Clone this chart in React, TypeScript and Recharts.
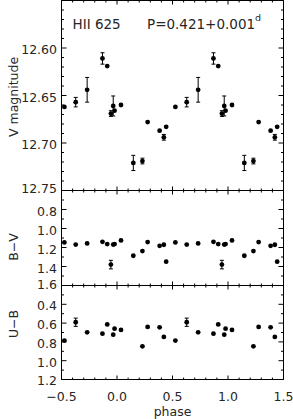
import { ErrorBar, ReferenceArea, Scatter, ScatterChart, XAxis, YAxis } from "recharts";

// folded observations of HII 625, phase in [0,1)
const phases = [0.036, 0.147, 0.229, 0.276, 0.384, 0.422, 0.443, 0.526, 0.628, 0.731, 0.869, 0.912, 0.945, 0.966, 0.978];
const vMag = [12.66, 12.721, 12.719, 12.678, 12.687, 12.694, 12.683, 12.662, 12.657, 12.644, 12.611, 12.619, 12.669, 12.661, 12.666];
const vErr = [0, 0.008, 0.003, 0, 0, 0.003, 0, 0, 0.005, 0.013, 0.006, 0, 0.003, 0.0105, 0];
const bv = [1.126, 1.287, 1.238, 1.143, 1.182, 1.171, 1.349, 1.147, 1.169, 1.157, 1.14, 1.164, 1.38, 1.169, 1.164];
const bvErr = [0, 0, 0, 0, 0, 0, 0, 0, 0, 0, 0, 0, 0.045, 0, 0];
const ub = [0.673, null, 0.847, 0.641, 0.645, 0.747, null, 0.786, 0.591, 0.698, 0.712, 0.614, null, 0.723, 0.659];
const ubErr = [0, 0, 0, 0, 0, 0, 0, 0, 0.044, 0, 0, 0, 0, 0, 0];

const xTicks = [-0.5, -0.4, -0.3, -0.2, -0.1, 0, 0.1, 0.2, 0.3, 0.4, 0.5, 0.6, 0.7, 0.8, 0.9, 1, 1.1, 1.2, 1.3, 1.4, 1.5];
const xMajor = [-0.5, 0, 0.5, 1, 1.5];

const vTicks = [12.55, 12.56, 12.57, 12.58, 12.59, 12.6, 12.61, 12.62, 12.63, 12.64, 12.65, 12.66, 12.67, 12.68, 12.69, 12.7, 12.71, 12.72, 12.73, 12.74, 12.75];
const vMajor = [12.55, 12.6, 12.65, 12.7, 12.75];
const vLabels = [12.6, 12.65, 12.7, 12.75];

const bvTicks = [0.6, 0.7, 0.8, 0.9, 1.0, 1.1, 1.2, 1.3, 1.4, 1.5, 1.6];
const bvMajor = [0.6, 0.8, 1.0, 1.2, 1.4, 1.6];
const bvLabels = [0.8, 1.0, 1.2, 1.4, 1.6];

const ubTicks = [0.2, 0.3, 0.4, 0.5, 0.6, 0.7, 0.8, 0.9, 1.0, 1.1, 1.2];
const ubMajor = [0.2, 0.4, 0.6, 0.8, 1.0, 1.2];
const ubLabels = [0.4, 0.6, 0.8, 1.0, 1.2];

const W = 293;
const H = 419;
const LEFT = 61.5;
const RIGHT = 283.5;
const FONT = "DejaVu Sans";
const INK = "#262626";

const has = (list: number[], v: number) => list.some((m) => Math.abs(m - v) < 1e-6);

// repeat each observation one cycle either side, keep what lands in -0.5..1.5
const fold = (vals: (number | null)[], errs: number[]) => {
  const rows: { phase: number; val: number; err: number }[] = [];
  for (const c of [-1, 0, 1]) {
    phases.forEach((p, i) => {
      const ph = p + c;
      const v = vals[i];
      if (v == null || ph < -0.5 || ph > 1.5) return;
      rows.push({ phase: ph, val: v, err: errs[i] });
    });
  }
  return rows;
};

const dot = (p: any) => <circle cx={p.cx} cy={p.cy} r={2.4} fill="#000" />;

type Panel = {
  top: number;
  bottom: number;
  domain: [number, number];
  ticks: number[];
  major: number[];
  labels: number[];
  digits: number;
  data: { phase: number; val: number; err: number }[];
  xLabels: boolean;
  edgeShift: number;
};

function PanelChart({ panel }: { panel: Panel }) {
  const { top, bottom, domain } = panel;

  const xTick = (p: any) => {
    const v = p.payload.value;
    const big = has(xMajor, v);
    const len = big ? 4 : 2;
    return (
      <g>
        <line x1={p.x} x2={p.x} y1={p.y} y2={p.y - len} stroke="#000" />
        <line x1={p.x} x2={p.x} y1={top} y2={top + len} stroke="#000" />
        {panel.xLabels && big && (
          <text x={p.x} y={p.y + 21} textAnchor="middle" fontFamily={FONT} fontSize={12.5} fill={INK}>
            {v.toFixed(1).replace("-", "\u2212")}
          </text>
        )}
      </g>
    );
  };

  const yTick = (p: any) => {
    const v = p.payload.value;
    const big = has(panel.major, v);
    const len = big ? 5 : 2.5;
    const edge = Math.abs(v - domain[1]) < 1e-6;
    return (
      <g>
        <line x1={p.x} x2={p.x + len} y1={p.y} y2={p.y} stroke="#000" />
        <line x1={RIGHT} x2={RIGHT - len} y1={p.y} y2={p.y} stroke="#000" />
        {has(panel.labels, v) && (
          <text
            x={p.x - 4.5}
            y={p.y + 5.5 + (edge ? panel.edgeShift : 0.5)}
            textAnchor="end"
            fontFamily={FONT}
            fontSize={12.5}
            fill={INK}
          >
            {v.toFixed(panel.digits)}
          </text>
        )}
      </g>
    );
  };

  // axes need a non-zero size to be drawn, so they take 1px out of the margins
  return (
    <div style={{ position: "absolute", left: 0, top: 0 }}>
      <ScatterChart
        width={W}
        height={H}
        margin={{ top, bottom: H - bottom - 1, left: LEFT - 1, right: W - RIGHT }}
      >
        <XAxis
          dataKey="phase"
          type="number"
          domain={[-0.5, 1.5]}
          ticks={xTicks}
          interval={0}
          height={1}
          tickSize={0}
          tickMargin={0}
          axisLine={false}
          tickLine={false}
          tick={xTick}
          allowDataOverflow
        />
        <YAxis
          dataKey="val"
          type="number"
          domain={domain}
          reversed
          ticks={panel.ticks}
          interval={0}
          width={1}
          tickSize={0}
          tickMargin={0}
          axisLine={false}
          tickLine={false}
          tick={yTick}
          allowDataOverflow
        />
        <ReferenceArea
          x1={-0.5}
          x2={1.5}
          y1={domain[0]}
          y2={domain[1]}
          fill="none"
          stroke="#000"
          strokeWidth={1}
          ifOverflow="visible"
        />
        <Scatter data={panel.data} shape={dot} isAnimationActive={false}>
          <ErrorBar dataKey="err" direction="y" width={2} stroke="#000" strokeWidth={1} />
        </Scatter>
      </ScatterChart>
    </div>
  );
}

const panels: Panel[] = [
  {
    top: 0.5,
    bottom: 190.5,
    domain: [12.55, 12.75],
    ticks: vTicks,
    major: vMajor,
    labels: vLabels,
    digits: 2,
    data: fold(vMag, vErr),
    xLabels: false,
    edgeShift: -3,
  },
  {
    top: 190.5,
    bottom: 285.5,
    domain: [0.6, 1.6],
    ticks: bvTicks,
    major: bvMajor,
    labels: bvLabels,
    digits: 1,
    data: fold(bv, bvErr),
    xLabels: false,
    edgeShift: -2.5,
  },
  {
    top: 285.5,
    bottom: 379.5,
    domain: [0.2, 1.2],
    ticks: ubTicks,
    major: ubMajor,
    labels: ubLabels,
    digits: 1,
    data: fold(ub, ubErr),
    xLabels: true,
    edgeShift: 0,
  },
];

export default function App() {
  const txt = { fontFamily: FONT, fill: INK };
  return (
    <div style={{ position: "fixed", left: 0, top: 0, width: W, height: H, background: "#fff" }}>
      {panels.map((p, i) => (
        <PanelChart key={i} panel={p} />
      ))}
      <svg width={W} height={H} style={{ position: "absolute", left: 0, top: 0 }}>
        <text x={72.5} y={29} fontSize={13.5} {...txt}>
          HII 625
        </text>
        <text x={147} y={29} fontSize={13.5} {...txt}>
          P=0.421+0.001
          <tspan fontSize={9.5} dy={-8.3}>
            d
          </tspan>
        </text>
        <text transform="translate(17.5,97) rotate(-90)" textAnchor="middle" fontSize={12.5} {...txt}>
          V magnitude
        </text>
        <text transform="translate(17.5,247) rotate(-90)" textAnchor="middle" fontSize={12.5} {...txt}>
          B{"\u2212"}V
        </text>
        <text transform="translate(17.5,324) rotate(-90)" textAnchor="middle" fontSize={12.5} {...txt}>
          U{"\u2212"}B
        </text>
        <text x={172.5} y={416} textAnchor="middle" fontSize={12.5} {...txt}>
          phase
        </text>
      </svg>
    </div>
  );
}
